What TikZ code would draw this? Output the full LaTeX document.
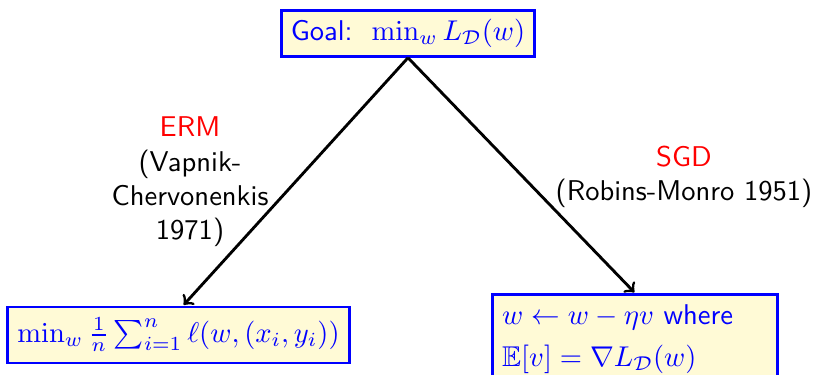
\documentclass[tikz,border=0pt]{standalone}
\usepackage{amsmath,amssymb}
\definecolor{boxfill}{RGB}{255,250,214}
\begin{document}
\begin{tikzpicture}[x=0.35pt,y=-0.35pt,
  every node/.style={font=\sffamily},
  mathbox/.style={draw=blue,line width=1pt,fill=boxfill,text=blue,inner xsep=3.3pt,inner ysep=3pt},
  lbl/.style={align=center,inner sep=0pt,anchor=north},
  conn/.style={->,line width=1pt,shorten >=0.3pt}]
\useasboundingbox (0,0) rectangle (816,375);
\node[mathbox] (goal) at (408,33.5) {Goal:\ \ $\min_w L_{\mathcal{D}}(w)$};
\node[mathbox,minimum height=56*0.35pt] (erm) at (178.5,335) {$\min_w \frac{1}{n}\sum_{i=1}^n \ell(w,(x_i,y_i))$};
\node[mathbox,anchor=north,text width=93pt,align=left,inner ysep=3.5pt] (sgd) at (635,293) {$w \leftarrow w - \eta v$ where\\[2.7pt] $\mathbb{E}[v] = \nabla L_{\mathcal{D}}(w)$};
\draw[conn] (goal.south) -- ([xshift=1.6pt]erm.north);
\draw[conn] (goal.south) -- (sgd.north);
\node[lbl] (ermlbl) at (190,116.5) {\textcolor{red}{ERM}\\(Vapnik-\\Chervonenkis\\1971)};
\node[lbl] (sgdlbl) at (684,145) {\textcolor{red}{SGD}\\(Robins-Monro 1951)};
\end{tikzpicture}
\end{document}
